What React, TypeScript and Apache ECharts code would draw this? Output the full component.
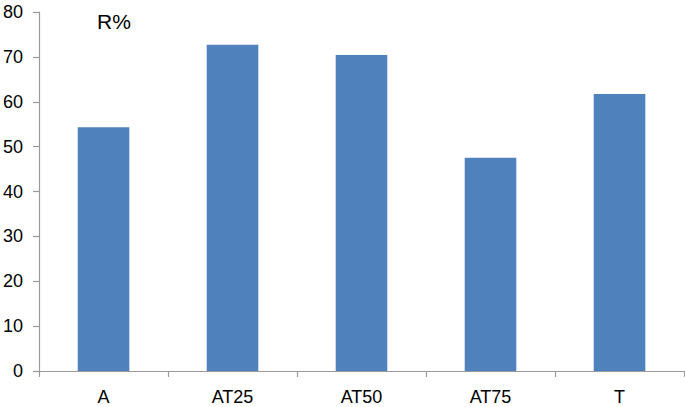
import React, { useEffect, useRef } from "react";
import * as echarts from "echarts";

const categories = ["A", "AT25", "AT50", "AT75", "T"];
const values = [54.3, 72.7, 70.4, 47.5, 61.7];
const yTicks = { min: 0, max: 80, interval: 10 };
const titleText = "R%";

export default function App() {
  const ref = useRef<HTMLDivElement>(null);
  useEffect(() => {
    const chart = echarts.init(ref.current!, null, { renderer: "svg" });
    const axisColor = "#9a9a9a";
    const font = "Liberation Sans, Arial, sans-serif";
    chart.setOption({
      animation: false,
      backgroundColor: "#ffffff",
      grid: { left: 39, right: 1, top: 12, bottom: 36 },
      xAxis: {
        type: "category",
        data: categories,
        axisLine: { lineStyle: { color: axisColor, width: 1.2 } },
        axisTick: { show: true, length: 6, lineStyle: { color: axisColor, width: 1.2 } },
        axisLabel: { color: "#000", fontSize: 18, fontFamily: font, margin: 17 },
      },
      yAxis: {
        type: "value",
        min: yTicks.min,
        max: yTicks.max,
        interval: yTicks.interval,
        axisLine: { show: true, lineStyle: { color: axisColor, width: 1.2 } },
        axisTick: { show: true, length: 6, lineStyle: { color: axisColor, width: 1.2 } },
        splitLine: { show: false },
        axisLabel: { color: "#000", fontSize: 18, fontFamily: font, margin: 16 },
      },
      graphic: [
        {
          type: "text",
          left: 97,
          top: 11,
          style: { text: titleText, fontSize: 21, fontFamily: font, fill: "#000" },
        },
      ],
      series: [
        {
          type: "bar",
          data: values,
          barWidth: "40%",
          itemStyle: { color: "#4f81bd" },
        },
      ],
    });
    return () => chart.dispose();
  }, []);
  return (
    <div
      ref={ref}
      style={{ position: "fixed", left: 0, top: 0, width: 685, height: 407 }}
    />
  );
}
